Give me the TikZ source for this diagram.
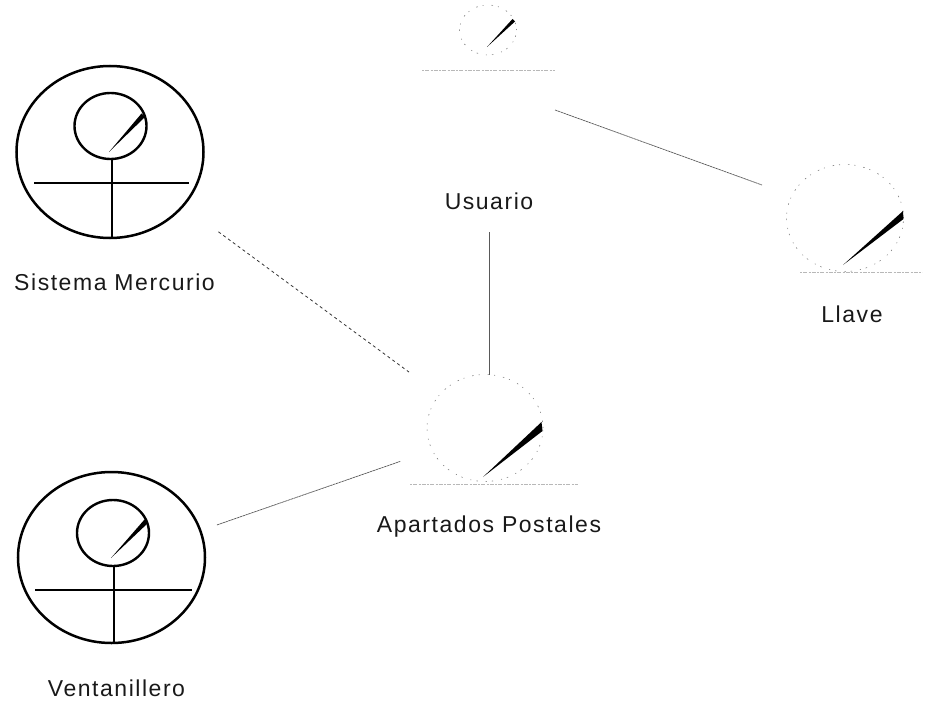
\documentclass[tikz,border=0pt]{standalone}
\usepackage{fontspec}
\setmainfont[LetterSpace=6.7]{Liberation Sans}
\usetikzlibrary{shapes.geometric}
\tikzset{
  x=1pt,y=-1pt,
  label text/.style={font=\fontsize{23}{27}\selectfont,text=black!90,inner sep=0pt,anchor=base},
  big ring/.style={draw=black,line width=2.5pt,ellipse,inner sep=0pt,outer sep=0pt},
  small ring/.style={draw=black,line width=2.4pt,ellipse,inner sep=0pt,outer sep=0pt},
  stick/.style={draw=black,line width=2.4pt},
  faint ring/.style={draw=black!50,line width=0.6pt,ellipse,inner sep=0pt,outer sep=0pt,dash pattern=on 1pt off 5pt on 1.5pt off 8pt},
  faint base/.style={draw=black!28,line width=0.8pt,dash pattern=on 2pt off 1pt on 4pt off 1.5pt},
  wedge/.style={fill=black,draw=none},
  assoc/.style={draw=black!65,line width=0.7pt,dash pattern=on 2.5pt off 0.5pt},
  assoc dash/.style={draw=black!80,line width=0.8pt,dash pattern=on 3pt off 3pt}
}
\begin{document}
\begin{tikzpicture}
\useasboundingbox (0,0) rectangle (934,706);
% Sistema Mercurio
\node[big ring,minimum width=187pt,minimum height=172pt] (sistema) at (110,152) {};
\node[small ring,minimum width=72pt,minimum height=66pt] (sistemaHead) at (110.5,126) {};
\coordinate (sistemaL) at (34,183); \coordinate (sistemaR) at (189,183);
\draw[stick] (sistemaL) -- (sistemaR);
\draw[stick] (112,159) -- (112,238);
\fill[wedge] (109,152) -- (141.5,113.5) -- (145,117) -- cycle;
\node[label text] (sistemaLabel) at (114.5,290) {Sistema Mercurio};
% Ventanillero
\node[big ring,minimum width=187pt,minimum height=171pt] (ventanillero) at (111.5,557.5) {};
\node[small ring,minimum width=72pt,minimum height=66pt] (ventanilleroHead) at (113,533) {};
\coordinate (ventL) at (35,590); \coordinate (ventR) at (192,590);
\draw[stick] (ventL) -- (ventR);
\draw[stick] (114,566) -- (114,643);
\fill[wedge] (111,558) -- (144.5,519.5) -- (148,523) -- cycle;
\node[label text] (ventanilleroLabel) at (116.5,696) {Ventanillero};
% Usuario
\node[faint ring,minimum width=57pt,minimum height=50pt] (usuario) at (488,30) {};
\coordinate (usuarioL) at (422,70); \coordinate (usuarioR) at (555,70);
\draw[faint base] (usuarioL) -- (usuarioR);
\fill[wedge] (487,47) -- (512.5,19) -- (515,21.5) -- cycle;
\node[label text] (usuarioLabel) at (489,209) {Usuario};
\coordinate (usuarioFoot) at (555,110);
% Llave
\node[faint ring,minimum width=117pt,minimum height=107pt] (llave) at (845,218) {};
\coordinate (llaveL) at (800,272); \coordinate (llaveR) at (922,272);
\draw[faint base] (llaveL) -- (llaveR);
\fill[wedge] (843,265) -- (903,211) -- (903.5,219) -- cycle;
\node[label text] (llaveLabel) at (852,322) {Llave};
\coordinate (llaveEnd) at (762,185);
% Apartados Postales
\node[faint ring,minimum width=116pt,minimum height=107pt] (apartados) at (485,428) {};
\coordinate (apartadosL) at (410,484); \coordinate (apartadosR) at (578,484);
\draw[faint base] (apartadosL) -- (apartadosR);
\fill[wedge] (483,477) -- (541.5,422) -- (542.5,431) -- cycle;
\node[label text] (apartadosLabel) at (489,532.5) {Apartados Postales};
% Connectors
\draw[assoc] (usuarioFoot) -- (llaveEnd);
\draw[assoc] (usuarioLabel.south |- 0,232) -- (usuarioLabel.south |- apartados.north);
\draw[assoc dash,shorten <=44pt,shorten >=38pt] (sistema) -- (apartados);
\draw[assoc,shorten <=111.6pt,shorten >=89.8pt] ([yshift=-4pt]ventanillero.center) -- ([yshift=-4pt]apartados.center);
\end{tikzpicture}
\end{document}
